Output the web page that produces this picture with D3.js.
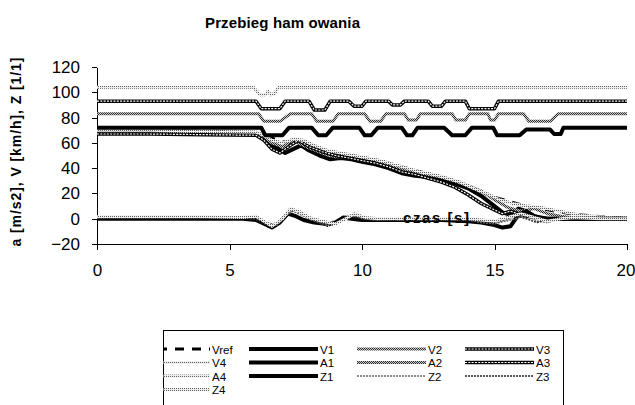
<!DOCTYPE html>
<html><head><meta charset="utf-8">
<script src="https://cdn.jsdelivr.net/npm/d3@7"></script>
<style>body{margin:0;background:#fff}svg{display:block}</style>
</head><body><svg id="c" width="635" height="405"></svg>
<script>
const title = "Przebieg ham owania";
const yLabel = "a [m/s2], V [km/h], Z [1/1]";
const xLabel = "czas [s]";
const xTicks = [0, 5, 10, 15, 20];
const yTicks = [-20, 0, 20, 40, 60, 80, 100, 120];
const seriesNames = ["Vref","V1","V2","V3","V4","A1","A2","A3","A4","Z1","Z2","Z3","Z4"];

// [time s, value]
const Vref = [[0,69.5],[2,69.5],[4,69],[6,68],[6.4,65],[7,61],[8,57],[9,52],[10,48],[11,44],[12,38],[13,33],[14,26],[15,17],[16,11],[17,7],[18,3.5],[19,1.5],[20,0.5]];
const V1 = [[0,69],[1,69.5],[2,68.5],[3,69],[4,68.5],[5,68],[6,67.5],[6.3,64],[6.5,58],[6.8,56],[7.1,52],[7.4,55],[7.7,58],[8.0,54],[8.4,50],[8.8,47],[9.2,48],[9.6,47],[10,45],[10.5,43],[11,40],[11.5,36],[12,34],[12.5,33],[13,31],[13.5,28],[14,24],[14.5,18],[15,10],[15.3,5],[15.6,3],[15.9,8],[16.2,6],[16.5,2],[17,0],[20,0]];
const V2 = [[0,68],[2,68],[4,67.5],[6,67],[6.3,65],[6.6,60],[7.0,57],[7.3,61],[7.6,60],[8,56],[8.5,52],[9,49],[9.5,49],[10,47],[10.5,45],[11,42],[11.5,39],[12,37],[12.5,35],[13,33],[13.5,30],[14,26],[14.5,22],[15,15],[15.5,9],[16,6],[16.5,8],[17,4],[17.5,2],[18,0.5],[20,0]];
const V3 = [[0,67],[2,67],[4,66.5],[6,66],[6.3,62],[6.6,55],[6.9,52],[7.3,58],[7.6,62],[8,57],[8.5,53],[9,50],[9.5,48],[10,46],[10.5,44],[11,41],[11.5,37],[12,35],[12.5,32],[13,29],[13.5,25],[14,19],[14.5,12],[15,7],[15.3,4],[15.6,6],[16,3],[16.5,1],[17,0],[20,0]];
const V4 = [[0,70],[2,70],[4,69],[6,68.5],[6.3,66],[6.6,62],[7,60],[7.4,63],[7.8,62],[8.2,58],[8.7,54],[9.2,52],[9.7,50],[10.2,48],[10.7,46],[11.2,43],[11.7,40],[12.2,37],[12.7,35],[13.2,32],[13.7,29],[14.2,24],[14.7,20],[15.2,15],[15.7,12],[16.2,10],[16.7,9],[17.2,7],[17.7,5],[18.2,3],[18.7,2],[19.2,1],[20,0.5]];
const A1 = [[0,72],[6.2,72],[6.35,66],[7.0,66],[7.25,72],[8.1,72],[8.35,66],[8.65,66],[8.9,72],[9.9,72],[10.1,66],[10.35,66],[10.6,72],[11.5,72],[11.7,66],[11.9,66],[12.1,72],[13.1,72],[13.4,66],[13.9,66],[14.15,72],[14.95,72],[15.1,66],[15.95,66],[16.2,70.5],[17.1,70.5],[17.25,67],[17.5,67],[17.6,72],[20,72]];
const A2 = [[0,83],[6.1,83],[6.3,77],[6.9,77],[7.3,83],[8.1,83],[8.3,77],[8.9,77],[9.1,83],[10.1,83],[10.3,77],[10.7,77],[10.9,83],[11.6,83],[11.75,78],[12.05,78],[12.2,83],[13.4,83],[13.55,78],[13.9,78],[14.05,83],[14.75,83],[14.85,78],[15.0,78],[15.15,83],[16.1,83],[16.3,77],[17.1,77],[17.4,83],[20,83]];
const A3 = [[0,93],[6.0,93],[6.2,87],[6.9,87],[7.1,93],[8.0,93],[8.2,86],[8.6,86],[8.8,93],[9.5,93],[9.7,89],[10.0,89],[10.15,93],[11.0,93],[11.15,90],[11.45,90],[11.6,93],[12.5,93],[12.65,89],[13.0,89],[13.15,93],[13.9,93],[14.05,87],[15.0,87],[15.15,93],[20,93]];
const A4 = [[0,104],[5.9,104],[6.15,98],[6.35,98],[6.45,101],[6.55,98],[6.7,99],[6.85,104],[20,104]];
const Z1 = [[0,0],[2,0],[4,0],[5.5,0],[6,-1],[6.3,-4],[6.6,-7],[6.9,-3],[7.2,4],[7.5,2],[7.8,-1],[8.2,-3],[8.6,-4],[9,-3],[9.3,1],[9.6,0],[10,-1],[11,-1],[12,-1],[13,-1],[14,-2],[14.5,-3],[15,-5],[15.3,-7],[15.6,-6],[15.9,3],[16.2,6],[16.5,2],[16.8,0],[17.2,0],[20,0]];
const Z2 = [[0,1],[2,1],[4,1],[5.5,1],[6,0],[6.4,-3],[6.8,-5],[7.1,2],[7.4,6],[7.7,3],[8.1,-1],[8.5,-4],[8.9,-5],[9.3,0],[9.6,3],[10,0],[10.5,-1],[11,0],[11.5,-1],[12,0],[12.5,-1],[13,0],[13.5,-1],[14,-1],[14.5,-3],[15,-4],[15.4,-2],[15.8,0],[16.2,3],[16.6,-2],[17,-3],[17.5,0],[18,0],[20,0]];
const Z3 = [[0,0.5],[2,0.5],[4,0.5],[5.5,0.5],[6,-1],[6.4,-5],[6.8,-4],[7.2,5],[7.5,7],[7.9,2],[8.3,-3],[8.7,-6],[9.1,-3],[9.4,2],[9.8,1],[10.3,-1],[11,-1],[11.5,0],[12,-1],[13,-1],[14,-1],[14.5,-2],[15,-3],[15.4,-1],[15.8,2],[16.2,0],[16.6,-3],[17,-1],[17.5,0],[20,0]];
const Z4 = [[0,1.5],[2,1.5],[4,1.5],[5.5,1],[6,2],[6.3,-2],[6.6,-6],[7,0],[7.3,8],[7.6,6],[8,1],[8.5,-2],[9,-4],[9.4,0],[9.7,4],[10.1,1],[10.6,0],[11,0],[12,0],[13,0],[14,0],[14.5,-1],[15,-2],[15.5,1],[16,4],[16.5,1],[17,-2],[17.5,0],[18,1],[19,0],[20,0]];

const seriesData = {Vref, V1, V2, V3, V4, A1, A2, A3, A4, Z1, Z2, Z3, Z4};
const styleOf = {Vref:"dash", V1:"thick", A1:"thick", Z1:"thick", V2:"gray", A2:"gray", Z2:"grayThin",
                 V3:"chain", A3:"chain", Z3:"thinBlack", V4:"light", A4:"light", Z4:"light"};

const svg = d3.select("#c");
const FONT = "'Liberation Sans', Arial, sans-serif";

// patterns
const defs = svg.append("defs");
function checker(id, bg, fg, pts) {
  const p = defs.append("pattern").attr("id", id).attr("patternUnits", "userSpaceOnUse")
    .attr("width", 2).attr("height", 2);
  p.append("rect").attr("width", 2).attr("height", 2).attr("fill", bg);
  pts.forEach(([x, y]) => p.append("rect").attr("x", x).attr("y", y).attr("width", 1).attr("height", 1).attr("fill", fg));
}
checker("pGray", "#c8c8c8", "#303030", [[0,0],[1,1]]);
checker("pLight", "#eeeeee", "#606060", [[0,0]]);

const x = d3.scaleLinear().domain([0, 20]).range([97, 627]);
const y = d3.scaleLinear().domain([-20, 120]).range([244, 67]);

// title
svg.append("text").attr("x", 205).attr("y", 28).attr("font-family", FONT).attr("font-weight", "bold")
  .attr("font-size", 15).attr("textLength", 155).attr("lengthAdjust", "spacing").text(title);

// y label
svg.append("text").attr("transform", "translate(21,152) rotate(-90)").attr("text-anchor", "middle")
  .attr("font-family", FONT).attr("font-weight", "bold").attr("font-size", 14)
  .attr("textLength", 189).attr("lengthAdjust", "spacing").text(yLabel);

// axes
const gx = svg.append("g").attr("transform", "translate(0,244)")
  .call(d3.axisBottom(x).tickValues(xTicks).tickFormat(d3.format("d")).tickSize(6).tickSizeOuter(0).tickPadding(14));
const gy = svg.append("g").attr("transform", "translate(97,0)")
  .call(d3.axisLeft(y).tickValues(yTicks).tickFormat(d3.format("d")).tickSize(5).tickSizeOuter(0).tickPadding(12));
[gx, gy].forEach(g => {
  g.selectAll("text").attr("font-family", FONT).attr("font-size", 17).attr("fill", "#000");
  g.selectAll("line,path").attr("stroke", "#000").attr("shape-rendering", "crispEdges");
});
gx.selectAll(".tick text").filter(d => d === 20).attr("text-anchor", "end").attr("dx", "8");

function drawStyled(g, d, style, gen) {
  const add = () => g.append("path").attr("d", gen(d)).attr("fill", "none").attr("stroke-linejoin", "round");
  if (style === "dash") add().attr("stroke", "#000").attr("stroke-width", 3).attr("stroke-dasharray", "9,8");
  else if (style === "thick") add().attr("stroke", "#000").attr("stroke-width", 4);
  else if (style === "gray") add().attr("stroke", "url(#pGray)").attr("stroke-width", 3);
  else if (style === "grayThin") add().attr("stroke", "#6a6a6a").attr("stroke-width", 1.5).attr("stroke-dasharray", "2,1");
  else if (style === "thinBlack") add().attr("stroke", "#222").attr("stroke-width", 1.5).attr("stroke-dasharray", "2,1");
  else if (style === "light") add().attr("stroke", "url(#pLight)").attr("stroke-width", 3);
  else if (style === "chain") {
    add().attr("stroke", "#000").attr("stroke-width", 3.5);
    add().attr("stroke", "#fff").attr("stroke-width", 1.2).attr("stroke-dasharray", "2,1.3");
  }
}

const line = d3.line().x(d => x(d[0])).y(d => y(d[1]));
const plot = svg.append("g");
seriesNames.forEach(n => drawStyled(plot, seriesData[n], styleOf[n], line));

// in-plot axis title
svg.append("text").attr("x", 403).attr("y", 223).attr("font-family", FONT).attr("font-weight", "bold")
  .attr("font-size", 15).attr("textLength", 66).attr("lengthAdjust", "spacing").text(xLabel);

// legend
const lg = svg.append("g");
defs.append("clipPath").attr("id", "lclip").append("rect").attr("x", 163.5).attr("y", 330.5).attr("width", 400).attr("height", 90);
lg.append("rect").attr("x", 163.5).attr("y", 330.5).attr("width", 400).attr("height", 90)
  .attr("fill", "#fff").attr("stroke", "#000").attr("stroke-width", 1);
const lc = lg.append("g").attr("clip-path", "url(#lclip)");
const keyX = [141, 249, 357, 465], rowY = [349, 362.5, 376, 389.5], keyLen = 69;
const straight = d3.line();
seriesNames.forEach((n, i) => {
  const c = i % 4, r = Math.floor(i / 4);
  const x0 = keyX[c], yy = rowY[r];
  drawStyled(lc, [[x0, yy], [x0 + keyLen, yy]], styleOf[n], straight);
  lc.append("text").attr("x", x0 + keyLen + 2).attr("y", yy + 4.5)
    .attr("font-family", FONT).attr("font-size", 11.5).text(n);
});
</script></body></html>
